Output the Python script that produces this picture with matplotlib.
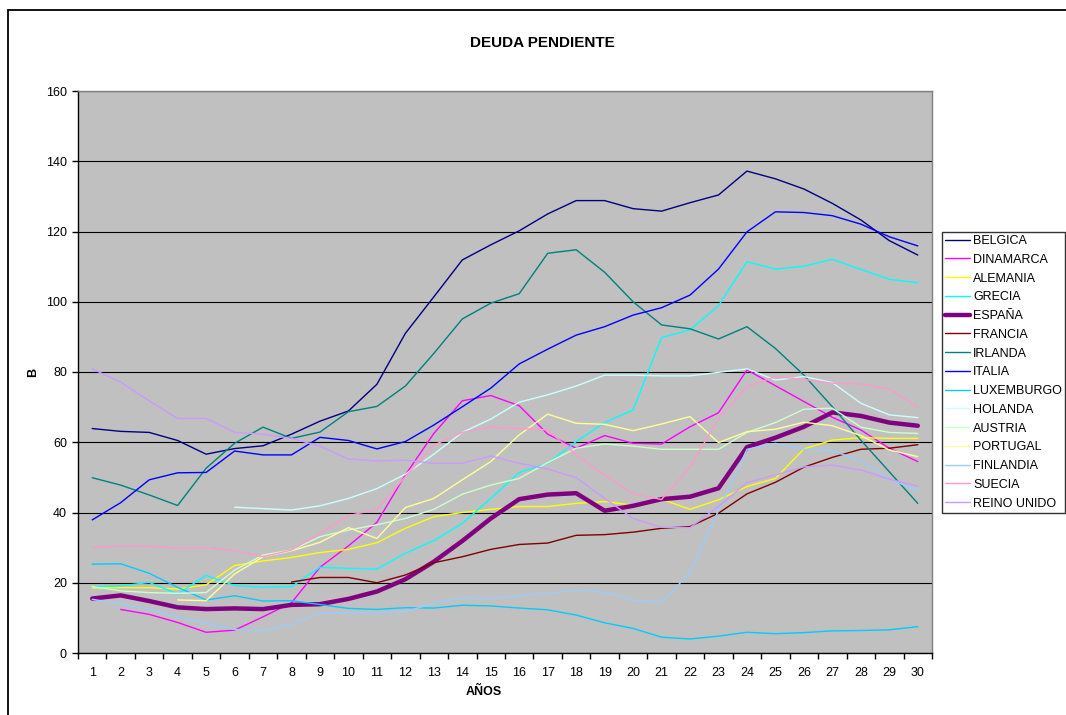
import numpy as np
import matplotlib.pyplot as plt
from matplotlib.patches import Rectangle

plt.rcParams['font.family'] = ['Liberation Sans', 'DejaVu Sans']

nan = np.nan
anos = list(range(1, 31))

belgica = [63.9, 63.1, 62.8, 60.5, 56.6, 58.2, 59.0, 62.3, 66.0, 68.9,
           76.5, 91.0, 101.4, 111.9, 116.2, 120.2, 125.0, 128.8, 128.8, 126.5,
           125.8, 128.2, 130.4, 137.2, 135.0, 132.1, 128.0, 123.3, 117.4, 113.3]
dinamarca = [nan, 12.4, 11.0, 8.7, 5.9, 6.5, 10.3, 14.3, 24.4, 30.5,
             37.2, 50.7, 62.5, 71.8, 73.3, 70.4, 62.3, 58.3, 61.9, 59.7,
             59.5, 64.4, 68.4, 80.6, 76.1, 71.6, 67.1, 63.5, 58.3, 54.5]
alemania = [18.5, 18.6, 18.6, 18.2, 19.4, 24.9, 26.2, 27.2, 28.6, 29.5,
            31.4, 35.5, 38.8, 40.0, 40.9, 41.7, 41.7, 42.6, 43.1, 42.1,
            43.8, 40.9, 43.6, 47.4, 49.7, 58.1, 60.6, 61.3, 61.1, 61.1]
grecia = [18.9, 19.1, 20.1, 16.8, 22.1, 19.2, 18.7, 18.9, 24.4, 24.1,
          23.9, 28.4, 32.0, 36.9, 44.0, 51.4, 54.0, 60.2, 65.6, 69.2,
          89.8, 92.0, 98.9, 111.4, 109.3, 110.1, 112.1, 109.2, 106.4, 105.4]
espana = [15.5, 16.4, 14.8, 13.0, 12.5, 12.7, 12.5, 13.7, 13.9, 15.4,
          17.5, 21.0, 26.0, 31.9, 38.3, 43.8, 45.1, 45.5, 40.5, 41.9,
          43.8, 44.5, 46.9, 58.6, 61.3, 64.4, 68.5, 67.5, 65.6, 64.7]
francia = [nan, nan, nan, nan, nan, nan, nan, 20.2, 21.5, 21.5,
           20.0, 22.2, 25.7, 27.4, 29.5, 30.9, 31.3, 33.5, 33.7, 34.4,
           35.5, 36.0, 39.8, 45.3, 48.6, 52.9, 55.7, 58.0, 58.3, 59.3]
irlanda = [49.9, 47.8, 45.0, 42.0, 52.6, 59.7, 64.3, 61.1, 62.9, 68.7,
           70.2, 76.0, 85.3, 95.1, 99.6, 102.3, 113.8, 114.8, 108.4, 100.0,
           93.4, 92.3, 89.4, 92.9, 86.7, 79.1, 70.1, 60.6, 51.6, 42.6]
italia = [37.9, 42.8, 49.3, 51.3, 51.4, 57.5, 56.4, 56.4, 61.4, 60.5,
          58.1, 60.2, 64.9, 70.1, 75.4, 82.3, 86.5, 90.5, 92.9, 96.2,
          98.3, 101.9, 109.3, 119.9, 125.6, 125.4, 124.5, 122.1, 118.5, 115.9]
luxemburgo = [25.3, 25.4, 22.7, 18.7, 15.1, 16.3, 14.8, 14.9, 13.8, 12.7,
              12.4, 12.9, 12.8, 13.6, 13.4, 12.8, 12.3, 10.8, 8.6, 7.0,
              4.5, 4.0, 4.8, 5.9, 5.5, 5.8, 6.3, 6.4, 6.6, 7.5]
holanda = [nan, nan, nan, nan, nan, 41.5, 41.1, 40.7, 41.9, 44.0,
           46.8, 50.9, 56.6, 62.8, 66.6, 71.4, 73.5, 76.0, 79.1, 79.1,
           78.9, 78.9, 79.9, 80.9, 77.7, 78.7, 77.0, 71.1, 67.8, 67.0]
austria = [18.9, 17.7, 17.2, 17.0, 17.2, 23.6, 27.9, 29.3, 33.1, 35.0,
           36.5, 38.3, 40.9, 45.2, 47.8, 49.7, 54.2, 58.3, 59.5, 58.9,
           58.0, 58.0, 58.0, 62.8, 65.6, 69.4, 69.7, 64.3, 62.8, 62.5]
portugal = [nan, nan, nan, 15.1, 14.9, 22.5, 27.4, 29.1, 31.5, 35.7,
            32.6, 41.4, 44.0, 49.3, 54.5, 62.1, 68.0, 65.4, 65.1, 63.3,
            65.2, 67.3, 59.9, 63.0, 63.7, 65.7, 64.7, 61.9, 57.8, 55.9]
finlandia = [15.3, 14.0, 12.5, 10.3, 8.5, 6.7, 6.4, 8.2, 11.3, 11.5,
             11.5, 11.8, 14.1, 15.7, 15.6, 16.2, 17.0, 17.9, 17.3, 15.1,
             14.4, 22.9, 40.6, 58.0, 59.7, 58.0, 57.6, 54.7, 49.5, 46.2]
suecia = [30.1, 30.5, 30.4, 29.8, 30.0, 29.1, 27.4, 29.3, 34.1, 39.1,
          40.9, 50.2, 59.2, 62.8, 64.3, 63.9, 63.5, 56.4, 50.7, 45.3,
          43.7, 52.9, 66.8, 75.8, 78.7, 77.9, 76.8, 76.6, 75.1, 70.1]
reino_unido = [80.9, 77.1, 71.8, 66.8, 66.8, 62.8, 62.3, 61.1, 58.9, 55.2,
               54.7, 54.9, 54.0, 54.0, 56.1, 54.0, 52.4, 49.9, 44.0, 38.3,
               35.8, 35.7, 41.7, 48.5, 50.7, 53.0, 53.5, 52.1, 49.5, 47.5]

series = [
    ('BELGICA', belgica, '#000080'),
    ('DINAMARCA', dinamarca, '#FF00FF'),
    ('ALEMANIA', alemania, '#FFFF00'),
    ('GRECIA', grecia, '#00FFFF'),
    ('ESPAÑA', espana, '#800080'),
    ('FRANCIA', francia, '#800000'),
    ('IRLANDA', irlanda, '#008080'),
    ('ITALIA', italia, '#0000FF'),
    ('LUXEMBURGO', luxemburgo, '#00CCFF'),
    ('HOLANDA', holanda, '#CCFFFF'),
    ('AUSTRIA', austria, '#CCFFCC'),
    ('PORTUGAL', portugal, '#FFFF99'),
    ('FINLANDIA', finlandia, '#99CCFF'),
    ('SUECIA', suecia, '#FF99CC'),
    ('REINO UNIDO', reino_unido, '#CC99FF'),
]

W, H = 1066, 715
fig = plt.figure(figsize=(W / 100, H / 100), dpi=100)
ax = fig.add_axes([78 / W, 1 - 653 / H, (932 - 78) / W, (653 - 91) / H])
ax.set_facecolor('#C0C0C0')

for name, vals, col in series:
    lw = 3.2 if name == 'ESPAÑA' else 1.0
    ax.plot(anos, vals, color=col, linewidth=lw, label=name,
            solid_capstyle='round', solid_joinstyle='round')

ax.set_xlim(0.5, 30.5)
ax.set_ylim(0, 160)
ax.set_yticks(np.arange(0, 161, 20))
ax.set_xticks(anos)
ax.set_xticks(np.arange(0.5, 31, 1), minor=True)
ax.tick_params(axis='x', which='major', length=0, pad=10, labelsize=9)
ax.tick_params(axis='x', which='minor', length=4, width=1, direction='out')
ax.tick_params(axis='y', length=4, width=1, direction='out', pad=4, labelsize=9)
ax.yaxis.grid(True, color='black', linewidth=0.8)
ax.set_axisbelow(True)
for s in ['left', 'bottom']:
    ax.spines[s].set_color('black')
    ax.spines[s].set_linewidth(1)
for s in ['top', 'right']:
    ax.spines[s].set_color('#808080')
    ax.spines[s].set_linewidth(1)

fig.text(542 / W, 1 - 43 / H, 'DEUDA PENDIENTE', ha='center', va='center',
         fontsize=11, fontweight='bold')
fig.text(33 / W, 1 - 372 / H, 'B', ha='center', va='center', rotation=90,
         fontsize=9, fontweight='bold')
fig.text(484 / W, 1 - 692 / H, 'AÑOS', ha='center', va='center',
         fontsize=9, fontweight='bold')

leg = ax.legend(loc='upper left', bbox_to_anchor=(942 / W, 1 - 232 / H),
                bbox_transform=fig.transFigure, borderaxespad=0,
                fontsize=9, frameon=True, fancybox=False, handlelength=2.0,
                handletextpad=0.25, labelspacing=0.54, borderpad=0.25)
leg.get_frame().set_edgecolor('black')
leg.get_frame().set_linewidth(1)

fig.add_artist(Rectangle((8 / W, -0.1), 1.2, 1 - 10 / H + 0.1,
                         transform=fig.transFigure, fill=False,
                         edgecolor='black', linewidth=1.3))

fig.savefig('out.png', dpi=100)
